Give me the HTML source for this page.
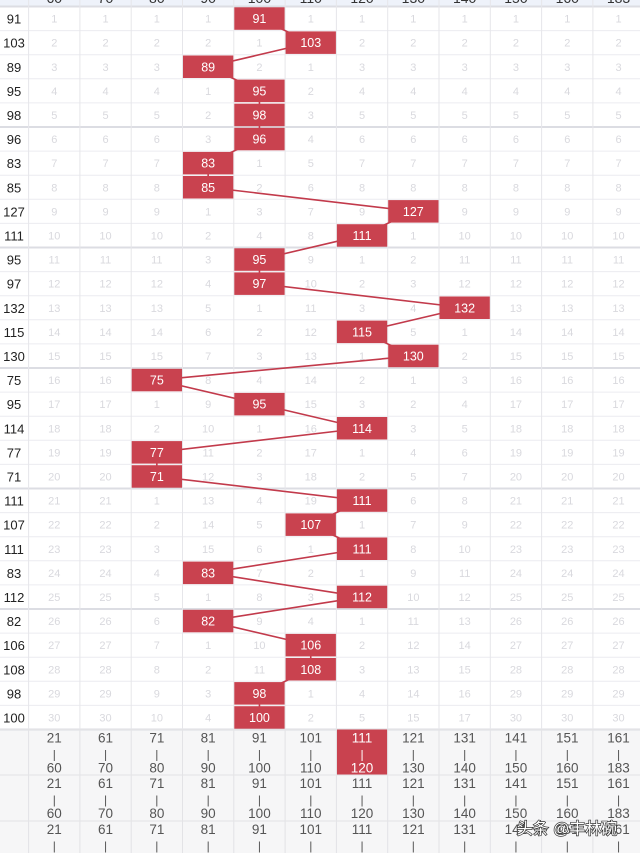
<!DOCTYPE html>
<html><head><meta charset="utf-8"><style>
html,body{margin:0;padding:0;background:#fff;}
body{width:640px;height:853px;overflow:hidden;font-family:"Liberation Sans","Noto Sans CJK SC",sans-serif;}
</style></head><body>
<svg id="chart" width="640" height="853" viewBox="0 0 640 853" xmlns="http://www.w3.org/2000/svg" font-family="Liberation Sans, Noto Sans CJK SC, sans-serif"></svg>
<script>
const values=[91,103,89,95,98,96,83,85,127,111,95,97,132,115,130,75,95,114,77,71,111,107,111,83,112,82,106,108,98,100];
const binLow=[21,61,71,81,91,101,111,121,131,141,151,161];
const binHigh=[60,70,80,90,100,110,120,130,140,150,160,183];
const headerLabels=["60","70","80","90","100","110","120","130","140","150","160","183"];

const svg=document.getElementById('chart');
const NS='http://www.w3.org/2000/svg';
const X0=28.6,CW=51.3,Y0=6.5,RH=24.1;
function colX(i){return X0+i*CW;}
function rowY(r){return Y0+r*RH;}
function binOf(v){for(let i=0;i<binLow.length;i++){if(v>=binLow[i]&&v<=binHigh[i])return i;}return binLow.length-1;}
function mk(tag,attrs,parent){const e=document.createElementNS(NS,tag);for(const k in attrs)e.setAttribute(k,attrs[k]);(parent||svg).appendChild(e);return e;}
function txt(x,y,s,attrs,parent){const t=mk('text',Object.assign({x:x,y:y,'text-anchor':'middle'},attrs),parent);t.textContent=s;return t;}

const hdr=mk('rect',{x:0,y:-20,width:640,height:26.5,fill:'#eef2fa'});


headerLabels.forEach((l,i)=>{const t=txt(colX(i)+CW/2,3,l,{'font-size':14,fill:'#333'});

});

const n=values.length;
const grid=mk('g',{});


for(let r=0;r<=n;r++){mk('line',{x1:0,x2:640,y1:rowY(r),y2:rowY(r),stroke:(r%5==0)?'#dcdde3':'#ececf0','stroke-width':(r%5==0)?2:1},grid);}
for(let i=0;i<=12;i++){mk('line',{x1:colX(i),x2:colX(i),y1:0,y2:853,stroke:'#e6e6ea','stroke-width':1},grid);}

const bins=values.map(binOf);
const miss=new Array(12).fill(0);
const cells=mk('g',{});


for(let r=0;r<n;r++){
  const lv=txt(14,rowY(r)+RH/2+5,String(values[r]),{'font-size':13,fill:'#222'});
  
  
  for(let c=0;c<12;c++){
    if(bins[r]===c){miss[c]=0;continue;}
    miss[c]++;
    txt(colX(c)+CW/2,rowY(r)+RH/2+4,String(miss[c]),{'font-size':11,fill:'#d9d9de'},cells);
  }
}

let pts=values.map((v,r)=>(colX(bins[r])+CW/2)+','+(rowY(r)+RH/2)).join(' ');
const pl=mk('polyline',{points:pts,fill:'none',stroke:'#c23a4b','stroke-width':1.6});



values.forEach((v,r)=>{
  const g=mk('g',{});
  
  
  mk('rect',{x:colX(bins[r])+0.5,y:rowY(r)+0.8,width:CW-1,height:RH-1.6,fill:'#c9424f'},g);
  txt(colX(bins[r])+CW/2,rowY(r)+RH/2+4.5,String(v),{'font-size':12.5,fill:'#fff'},g);
});

const bot=mk('rect',{x:0,y:rowY(n)+1,width:640,height:853-rowY(n),fill:'#f6f6f7'});


const blockTops=[729.5,775,821];
blockTops.forEach((top,b)=>{
  mk('line',{x1:0,x2:640,y1:top,y2:top,stroke:'#e3e3e6','stroke-width':1});
  for(let c=0;c<12;c++){
    const cx=colX(c)+CW/2;
    let col='#555';
    if(b===0&&c===6){const hr=mk('rect',{x:colX(c)+0.5,y:top,width:CW-1,height:45,fill:'#c9424f'});
      
      col='#fff';}
    txt(cx,top+13,String(binLow[c]),{'font-size':13.5,fill:col});
    txt(cx,top+29,'|',{'font-size':12,fill:col});
    if(b<2)txt(cx,top+43,String(binHigh[c]),{'font-size':13.5,fill:col});
  }
});
for(let i=0;i<=12;i++){mk('line',{x1:colX(i),x2:colX(i),y1:729.5,y2:853,stroke:'#e3e3e6','stroke-width':1});}

const wm=txt(567,834,'头条 @丰林碗',{'font-size':16,fill:'#fff',stroke:'#333','stroke-width':1.4,'paint-order':'stroke'});


</script>
</body></html>
